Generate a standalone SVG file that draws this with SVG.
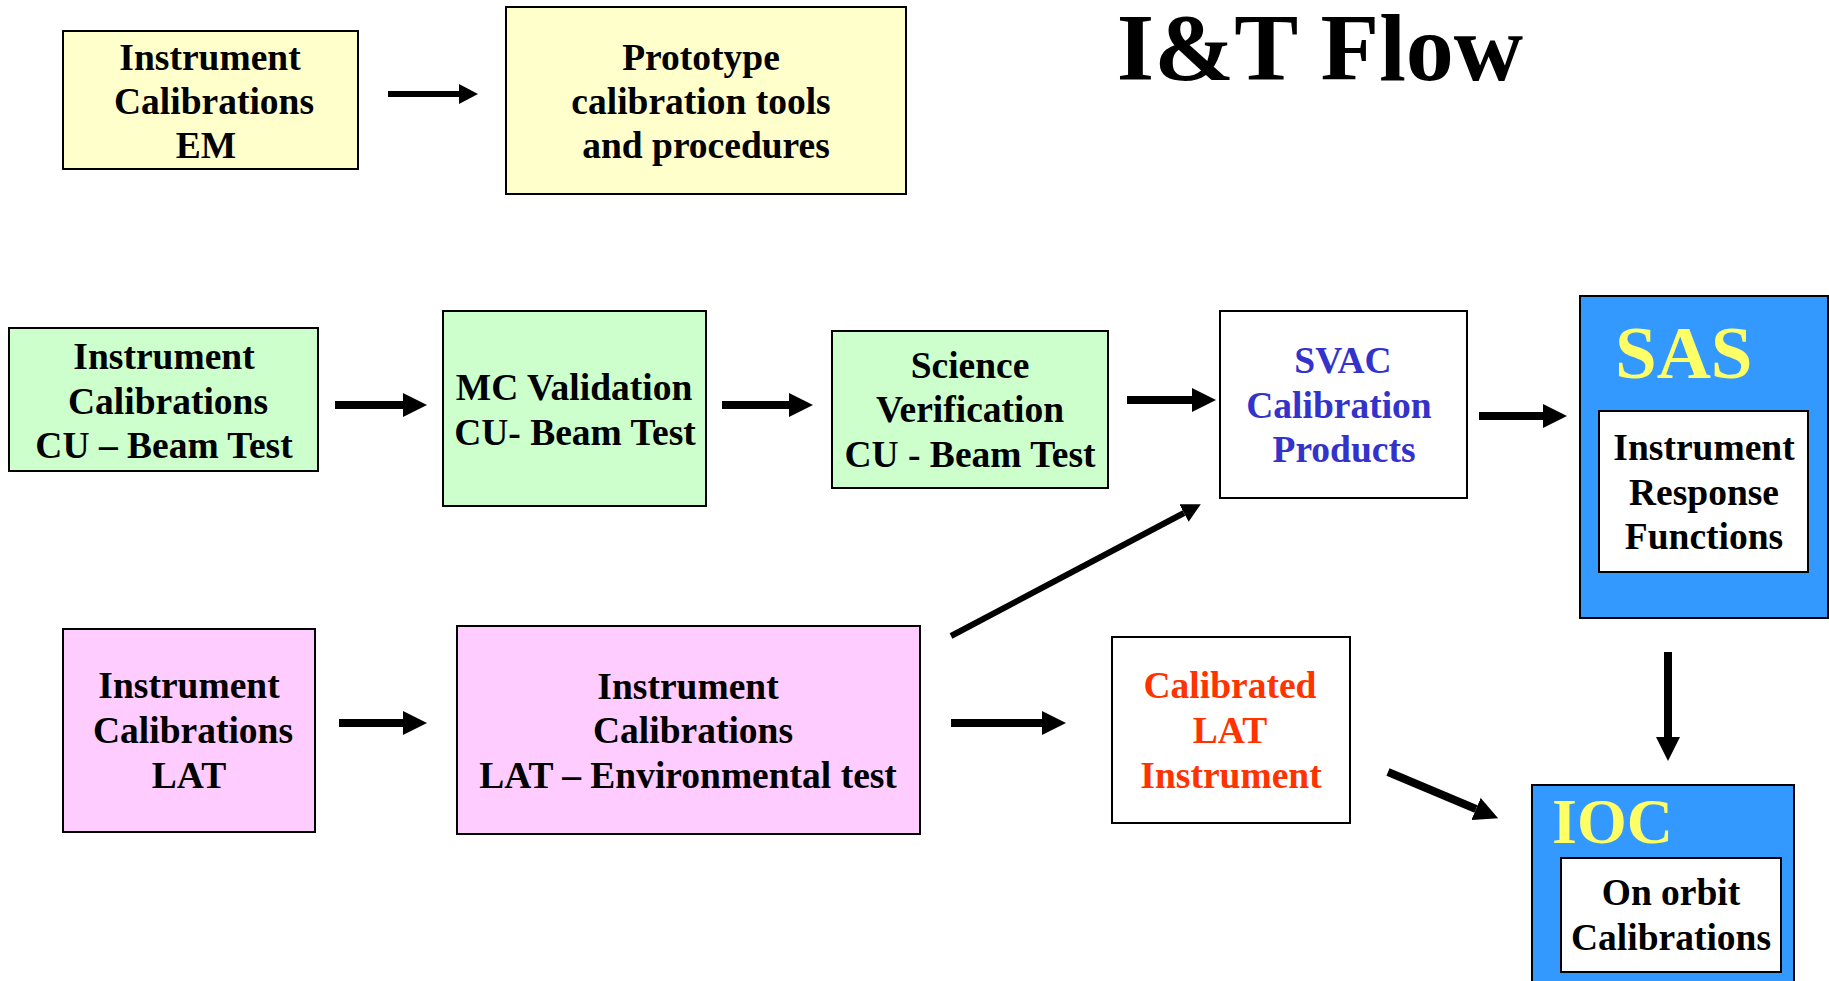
<svg xmlns="http://www.w3.org/2000/svg" width="1829" height="981" viewBox="0 0 1829 981">
<style>
  .box { stroke: #000; stroke-width: 2; }
  .yellow { fill: #FFFFCC; }
  .green { fill: #CCFFCC; }
  .pink { fill: #FFCCFF; }
  .white { fill: #FFFFFF; }
  .blue { fill: #3399FF; }
  text { font-family: "Liberation Serif", "Times New Roman", serif; font-weight: bold; text-anchor: middle; }
  .t { font-size: 37.5px; fill: #000; }
  .tblue { font-size: 37.5px; fill: #3333CC; }
  .tred { font-size: 37.5px; fill: #FF3300; }
  .big { fill: #FFFF66; text-anchor: start; }
  .conn { stroke: #000; fill: none; }
  .thick { stroke-width: 8; }
  .thin { stroke-width: 6; }
</style>
<defs>
  <marker id="ah" markerUnits="userSpaceOnUse" markerWidth="24" markerHeight="24" viewBox="0 0 24 24" refX="0" refY="12" orient="auto">
    <path d="M0,0 L24,12 L0,24 z" fill="#000"/>
  </marker>
  <marker id="ahs" markerUnits="userSpaceOnUse" markerWidth="19" markerHeight="20" viewBox="0 0 19 20" refX="0" refY="10" orient="auto">
    <path d="M0,0 L19,10 L0,20 z" fill="#000"/>
  </marker>
</defs>

<text id="title" x="1320" y="80" style="font-size:96px" fill="#000">I&amp;T Flow</text>

<g id="em">
  <rect class="box yellow" x="63" y="31" width="295" height="138"/>
  <text class="t" x="210" y="70">Instrument</text>
  <text class="t" x="214" y="114">Calibrations</text>
  <text class="t" x="206" y="158">EM</text>
</g>
<g id="prototype">
  <rect class="box yellow" x="506" y="7" width="400" height="187"/>
  <text class="t" x="701" y="70">Prototype</text>
  <text class="t" x="701" y="114">calibration tools</text>
  <text class="t" x="706" y="158">and procedures</text>
</g>

<g id="cu-calib">
  <rect class="box green" x="9" y="328" width="309" height="143"/>
  <text class="t" x="164" y="369">Instrument</text>
  <text class="t" x="168" y="414">Calibrations</text>
  <text class="t" x="164" y="458">CU – Beam Test</text>
</g>
<g id="mc">
  <rect class="box green" x="443" y="311" width="263" height="195"/>
  <text class="t" x="574" y="400">MC Validation</text>
  <text class="t" x="575" y="445">CU- Beam Test</text>
</g>
<g id="sv">
  <rect class="box green" x="832" y="331" width="276" height="157"/>
  <text class="t" x="970" y="378">Science</text>
  <text class="t" x="970" y="422">Verification</text>
  <text class="t" x="970" y="467">CU - Beam Test</text>
</g>
<g id="svac">
  <rect class="box white" x="1220" y="311" width="247" height="187"/>
  <text class="tblue" x="1343" y="373">SVAC</text>
  <text class="tblue" x="1339" y="418">Calibration</text>
  <text class="tblue" x="1344" y="462">Products</text>
</g>
<g id="sas">
  <rect class="box blue" x="1580" y="296" width="248" height="322"/>
  <text class="big" x="1615" y="378" style="font-size:75px">SAS</text>
  <rect class="box white" x="1599" y="411" width="209" height="161"/>
  <text class="t" x="1704" y="460">Instrument</text>
  <text class="t" x="1704" y="505">Response</text>
  <text class="t" x="1704" y="549">Functions</text>
</g>

<g id="lat-calib">
  <rect class="box pink" x="63" y="629" width="252" height="203"/>
  <text class="t" x="189" y="698">Instrument</text>
  <text class="t" x="193" y="743">Calibrations</text>
  <text class="t" x="189" y="788">LAT</text>
</g>
<g id="lat-env">
  <rect class="box pink" x="457" y="626" width="463" height="208"/>
  <text class="t" x="688" y="699">Instrument</text>
  <text class="t" x="693" y="743">Calibrations</text>
  <text class="t" x="688" y="788">LAT – Environmental test</text>
</g>
<g id="calibrated">
  <rect class="box white" x="1112" y="637" width="238" height="186"/>
  <text class="tred" x="1230" y="698">Calibrated</text>
  <text class="tred" x="1230" y="743">LAT</text>
  <text class="tred" x="1231" y="788">Instrument</text>
</g>
<g id="ioc">
  <rect class="box blue" x="1532" y="785" width="262" height="200"/>
  <text class="big" x="1552" y="843" style="font-size:64px">IOC</text>
  <rect class="box white" x="1561" y="858" width="220" height="114"/>
  <text class="t" x="1671" y="905">On orbit</text>
  <text class="t" x="1671" y="950">Calibrations</text>
</g>

<g id="connectors">
  <line class="conn thin" x1="388" y1="94" x2="459" y2="94" marker-end="url(#ahs)"/>
  <line class="conn thick" x1="335" y1="405" x2="403" y2="405" marker-end="url(#ah)"/>
  <line class="conn thick" x1="722" y1="405" x2="789" y2="405" marker-end="url(#ah)"/>
  <line class="conn thick" x1="1127" y1="400" x2="1192" y2="400" marker-end="url(#ah)"/>
  <line class="conn thick" x1="1479" y1="416" x2="1543" y2="416" marker-end="url(#ah)"/>
  <line class="conn thick" x1="339" y1="723" x2="403" y2="723" marker-end="url(#ah)"/>
  <line class="conn thick" x1="951" y1="723" x2="1042" y2="723" marker-end="url(#ah)"/>
  <line class="conn thin" x1="951" y1="636" x2="1184" y2="513" marker-end="url(#ahs)"/>
  <line class="conn thick" x1="1388" y1="772" x2="1476" y2="809" marker-end="url(#ah)"/>
  <line class="conn thick" x1="1668" y1="652" x2="1668" y2="737" marker-end="url(#ah)"/>
</g>
</svg>
